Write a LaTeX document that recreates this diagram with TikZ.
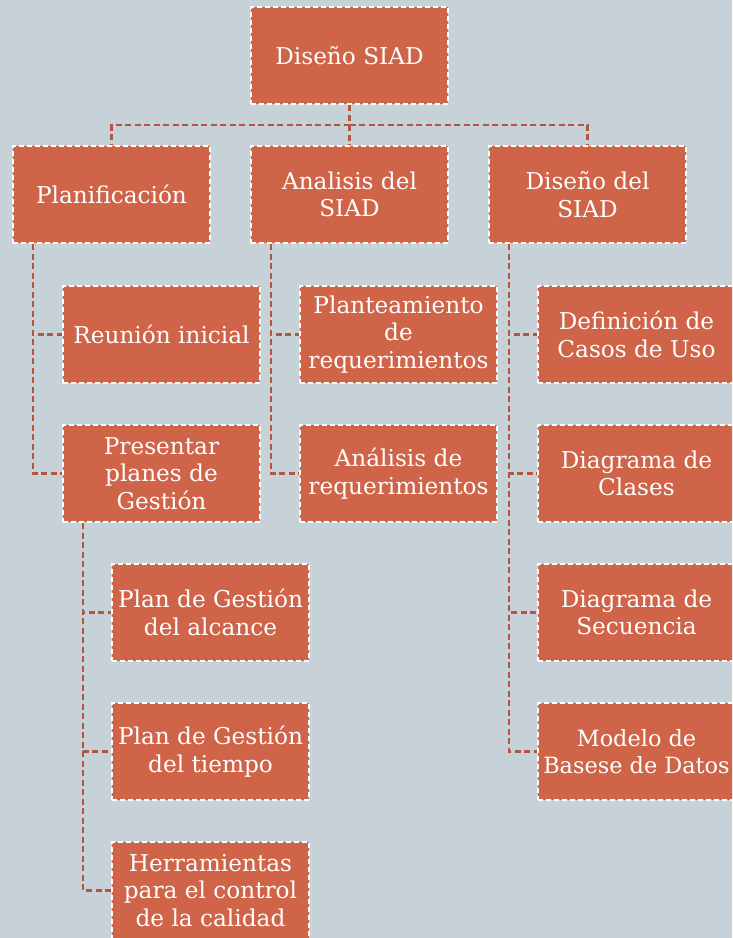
\documentclass[tikz,border=0pt]{standalone}
\usepackage{fontspec}
\setmainfont{DejaVu Serif}
\definecolor{bgc}{HTML}{C6D2D8}
\definecolor{boxc}{HTML}{D06449}
\definecolor{linec}{HTML}{B4553D}
\pgfdeclarelayer{back}
\pgfdeclarelayer{lines}
\pgfsetlayers{back,lines,main}
\begin{document}
\begin{tikzpicture}[x=1pt,y=-1pt,
  box/.style={draw=white,line width=2.2pt,dash pattern=on 5pt off 3pt,fill=boxc,
    minimum width=197pt,minimum height=97pt,inner sep=0pt,align=center,
    text=white,font=\fontsize{23.2}{27.5}\selectfont},
  conn/.style={draw=linec,line width=2.8pt,dash pattern=on 6pt off 3.5pt}]
\clip (0,0) rectangle (732,938);
\begin{pgfonlayer}{back}
\fill[bgc] (0,0) rectangle (732,938);
\end{pgfonlayer}
\coordinate (bus) at (349.5,125);
\node[box] (top) at (349.5,55.5) {Diseño SIAD};
\node[box] (plan) at (111.5,194.5) {Planificación};
\node[box] (anal) at (349.5,194.5) {Analisis del\\SIAD};
\node[box] (dis) at (587.5,194.5) {Diseño del\\SIAD};
\node[box] (reu) at (161.5,334.5) {Reunión inicial};
\node[box] (pres) at (161.5,473.5) {Presentar\\planes de\\Gestión};
\node[box] (plant) at (398.5,334.5) {Planteamiento\\de\\requerimientos};
\node[box] (areq) at (398.5,473.5) {Análisis de\\requerimientos};
\node[box] (def) at (636.5,334.5) {Definición de\\Casos de Uso};
\node[box] (dcl) at (636.5,473.5) {Diagrama de\\Clases};
\node[box] (dsec) at (636.5,612.5) {Diagrama de\\Secuencia};
\node[box,font=\fontsize{22.4}{27.5}\selectfont] (mod) at (636.5,751.5) {Modelo de\\Basese de Datos};
\node[box] (pga) at (210.5,612.5) {Plan de Gestión\\del alcance};
\node[box] (pgt) at (210.5,751.5) {Plan de Gestión\\del tiempo};
\node[box] (herr) at (210.5,890.5) {Herramientas\\para el control\\de la calidad};
\begin{pgfonlayer}{lines}
\draw[conn] (top.south) -- (bus);
\draw[conn] (bus) -| (plan.north);
\draw[conn] (bus) -| (dis.north);
\draw[conn] (bus) -- (anal.north);
\draw[conn] ([xshift=21pt]plan.south west) |- (pres.west);
\draw[conn] ([xshift=21pt]plan.south west) |- (reu.west);
\draw[conn] ([xshift=21pt]anal.south west) |- (areq.west);
\draw[conn] ([xshift=21pt]anal.south west) |- (plant.west);
\draw[conn] ([xshift=21pt]dis.south west) |- (mod.west);
\draw[conn] ([xshift=21pt]dis.south west) |- (dsec.west);
\draw[conn] ([xshift=21pt]dis.south west) |- (dcl.west);
\draw[conn] ([xshift=21pt]dis.south west) |- (def.west);
\draw[conn] ([xshift=21pt]pres.south west) |- (herr.west);
\draw[conn] ([xshift=21pt]pres.south west) |- (pgt.west);
\draw[conn] ([xshift=21pt]pres.south west) |- (pga.west);
\end{pgfonlayer}
\end{tikzpicture}
\end{document}
